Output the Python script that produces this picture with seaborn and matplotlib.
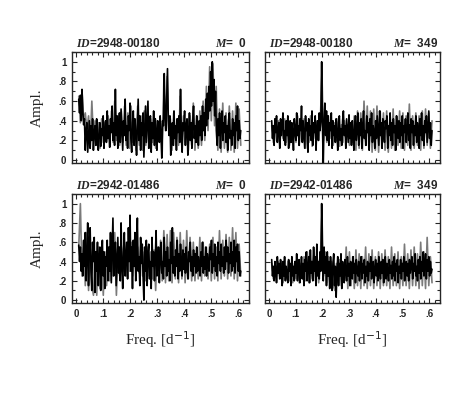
import numpy as np
import seaborn as sns
import matplotlib.pyplot as plt
from matplotlib.ticker import MultipleLocator, FuncFormatter

# frequency grids [1/d]
freq = np.linspace(0.01, 0.61, 200)       # black spectra
freq_gray = np.linspace(0.01, 0.61, 100)  # gray spectra

# star 2948-00180, M = 0
tl_black = [0.62, 0.48, 0.66, 0.40, 0.72, 0.50, 0.36, 0.42, 0.10, 0.30,
            0.38, 0.08, 0.25, 0.40, 0.12, 0.35, 0.20, 0.42, 0.10, 0.28,
            0.35, 0.15, 0.42, 0.22, 0.10, 0.30, 0.38, 0.14, 0.32, 0.25,
            0.45, 0.12, 0.30, 0.40, 0.18, 0.50, 0.22, 0.35, 0.13, 0.42,
            0.28, 0.55, 0.20, 0.38, 0.15, 0.72, 0.25, 0.45, 0.12, 0.35,
            0.48, 0.18, 0.52, 0.30, 0.10, 0.40, 0.25, 0.62, 0.20, 0.35,
            0.12, 0.45, 0.30, 0.58, 0.22, 0.08, 0.38, 0.50, 0.15, 0.42,
            0.28, 0.05, 0.35, 0.62, 0.20, 0.45, 0.10, 0.38, 0.25, 0.48,
            0.03, 0.30, 0.55, 0.18, 0.40, 0.60, 0.12, 0.35, 0.45, 0.08,
            0.38, 0.22, 0.50, 0.15, 0.42, 0.28, 0.10, 0.40, 0.30, 0.18,
            0.45, 0.25, 0.02, 0.40, 0.35, 0.88, 0.45, 0.30, 0.60, 0.93,
            0.40, 0.25, 0.45, 0.05, 0.30, 0.38, 0.15, 0.50, 0.22, 0.35,
            0.10, 0.42, 0.28, 0.45, 0.18, 0.72, 0.25, 0.08, 0.38, 0.30,
            0.50, 0.15, 0.35, 0.42, 0.05, 0.30, 0.48, 0.20, 0.38, 0.12,
            0.40, 0.55, 0.22, 0.35, 0.18, 0.45, 0.28, 0.15, 0.40, 0.25,
            0.45, 0.20, 0.55, 0.30, 0.48, 0.25, 0.62, 0.35, 0.68, 0.42,
            0.75, 0.50, 0.90, 0.55, 1.00, 0.60, 0.82, 0.45, 0.70, 0.30,
            0.15, 0.42, 0.25, 0.48, 0.12, 0.35, 0.50, 0.20, 0.38, 0.28,
            0.45, 0.18, 0.35, 0.10, 0.40, 0.48, 0.22, 0.30, 0.15, 0.42,
            0.25, 0.38, 0.12, 0.45, 0.30, 0.55, 0.20, 0.40, 0.22, 0.30]
tl_gray = [0.65, 0.38, 0.70, 0.40, 0.48, 0.30, 0.45, 0.12, 0.60, 0.20,
           0.40, 0.15, 0.38, 0.12, 0.42, 0.18, 0.38, 0.20, 0.45, 0.15,
           0.50, 0.18, 0.60, 0.20, 0.45, 0.15, 0.50, 0.18, 0.55, 0.15,
           0.48, 0.12, 0.55, 0.18, 0.42, 0.10, 0.55, 0.15, 0.45, 0.10,
           0.50, 0.15, 0.55, 0.12, 0.42, 0.18, 0.48, 0.12, 0.40, 0.20,
           0.38, 0.08, 0.80, 0.30, 0.85, 0.28, 0.42, 0.10, 0.48, 0.15,
           0.42, 0.15, 0.65, 0.12, 0.45, 0.18, 0.40, 0.10, 0.45, 0.15,
           0.58, 0.10, 0.45, 0.12, 0.50, 0.15, 0.60, 0.20, 0.75, 0.30,
           0.95, 0.40, 0.98, 0.35, 0.75, 0.10, 0.52, 0.08, 0.58, 0.12,
           0.48, 0.08, 0.55, 0.10, 0.50, 0.08, 0.58, 0.12, 0.52, 0.15]

# star 2948-00180, M = 349
tr_black = [0.40, 0.22, 0.35, 0.15, 0.42, 0.28, 0.45, 0.18, 0.30, 0.38,
            0.12, 0.42, 0.25, 0.35, 0.48, 0.20, 0.30, 0.15, 0.40, 0.25,
            0.45, 0.12, 0.32, 0.40, 0.18, 0.38, 0.28, 0.10, 0.42, 0.30,
            0.20, 0.48, 0.25, 0.35, 0.15, 0.42, 0.30, 0.55, 0.18, 0.40,
            0.25, 0.12, 0.45, 0.30, 0.38, 0.08, 0.42, 0.25, 0.35, 0.20,
            0.50, 0.15, 0.38, 0.28, 0.45, 0.10, 0.32, 0.40, 0.20, 0.48,
            0.30, 0.40, 1.00, 0.35, -0.05, 0.42, 0.58, 0.25, 0.50, 0.20,
            0.45, 0.15, 0.38, 0.30, 0.48, 0.12, 0.40, 0.25, 0.35, 0.18,
            0.42, 0.28, 0.10, 0.38, 0.45, 0.20, 0.32, 0.15, 0.40, 0.50,
            0.25, 0.35, 0.12, 0.42, 0.30, 0.18, 0.46, 0.22, 0.38, 0.15,
            0.40, 0.28, 0.10, 0.35, 0.45, 0.20, 0.30, 0.48, 0.15, 0.38,
            0.25, 0.42, 0.12, 0.35, 0.50, 0.22, 0.30, 0.15, 0.45, 0.28,
            0.38, 0.10, 0.42, 0.25, 0.48, 0.18, 0.35, 0.30, 0.12, 0.40,
            0.22, 0.45, 0.30, 0.15, 0.50, 0.25, 0.38, 0.12, 0.42, 0.28,
            0.18, 0.40, 0.32, 0.45, 0.12, 0.35, 0.25, 0.48, 0.20, 0.38,
            0.15, 0.42, 0.28, 0.35, 0.10, 0.45, 0.30, 0.22, 0.40, 0.18,
            0.38, 0.25, 0.45, 0.12, 0.35, 0.28, 0.42, 0.18, 0.30, 0.48,
            0.20, 0.36, 0.12, 0.42, 0.28, 0.40, 0.15, 0.35, 0.25, 0.45,
            0.18, 0.38, 0.30, 0.12, 0.42, 0.25, 0.48, 0.20, 0.35, 0.15,
            0.40, 0.28, 0.45, 0.18, 0.35, 0.50, 0.22, 0.38, 0.15, 0.30]
tr_gray = [0.35, 0.18, 0.38, 0.20, 0.40, 0.15, 0.36, 0.22, 0.42, 0.18,
           0.35, 0.15, 0.38, 0.20, 0.40, 0.18, 0.45, 0.15, 0.36, 0.20,
           0.42, 0.12, 0.38, 0.18, 0.45, 0.14, 0.35, 0.22, 0.40, 0.20,
           0.38, 0.90, 0.20, 0.50, 0.18, 0.45, 0.22, 0.40, 0.15, 0.38,
           0.20, 0.42, 0.14, 0.36, 0.18, 0.40, 0.22, 0.36, 0.15, 0.38,
           0.18, 0.45, 0.10, 0.50, 0.12, 0.48, 0.10, 0.60, 0.15, 0.55,
           0.12, 0.50, 0.08, 0.52, 0.10, 0.55, 0.08, 0.50, 0.12, 0.48,
           0.10, 0.50, 0.08, 0.45, 0.12, 0.52, 0.10, 0.45, 0.15, 0.50,
           0.12, 0.48, 0.10, 0.45, 0.15, 0.57, 0.10, 0.45, 0.12, 0.48,
           0.15, 0.45, 0.10, 0.50, 0.12, 0.52, 0.15, 0.48, 0.12, 0.40]

# star 2942-01486, M = 0
bl_black = [0.57, 0.40, 0.55, 0.30, 0.48, 0.25, 0.62, 0.35, 0.70, 0.20,
            0.45, 0.80, 0.15, 0.55, 0.75, 0.30, 0.10, 0.60, 0.40, 0.65,
            0.08, 0.50, 0.30, 0.60, 0.15, 0.45, 0.55, 0.10, 0.40, 0.62,
            0.25, 0.50, 0.12, 0.45, 0.35, 0.62, 0.20, 0.55, 0.30, 0.70,
            0.18, 0.50, 0.85, 0.25, 0.45, 0.60, 0.15, 0.40, 0.65, 0.28,
            0.55, 0.20, 0.80, 0.35, 0.12, 0.50, 0.70, 0.25, 0.45, 0.60,
            0.22, 0.75, 0.40, 0.88, 0.30, 0.55, 0.12, 0.62, 0.35, 0.70,
            0.20, 0.50, 0.85, 0.30, 0.45, 0.15, 0.65, 0.38, 0.58, 0.25,
            0.00, 0.55, 0.30, 0.62, 0.15, 0.48, 0.58, 0.22, 0.40, 0.12,
            0.65, 0.35, 0.50, 0.20, 0.42, 0.72, 0.25, 0.38, 0.55, 0.18,
            0.45, 0.60, 0.28, 0.40, 0.22, 0.65, 0.35, 0.50, 0.25, 0.55,
            0.30, 0.42, 0.20, 0.60, 0.38, 0.75, 0.28, 0.45, 0.25, 0.52,
            0.35, 0.62, 0.22, 0.48, 0.30, 0.58, 0.40, 0.25, 0.52, 0.32,
            0.48, 0.28, 0.55, 0.35, 0.22, 0.50, 0.40, 0.60, 0.30, 0.45,
            0.25, 0.52, 0.35, 0.48, 0.28, 0.55, 0.30, 0.45, 0.38, 0.25,
            0.50, 0.35, 0.60, 0.28, 0.45, 0.32, 0.55, 0.25, 0.48, 0.38,
            0.30, 0.55, 0.42, 0.62, 0.28, 0.48, 0.35, 0.58, 0.30, 0.45,
            0.25, 0.60, 0.38, 0.50, 0.30, 0.58, 0.35, 0.45, 0.28, 0.55,
            0.32, 0.62, 0.40, 0.55, 0.28, 0.48, 0.38, 0.60, 0.30, 0.50,
            0.35, 0.62, 0.28, 0.55, 0.40, 0.58, 0.30, 0.50, 0.25, 0.30]
bl_gray = [0.55, 1.00, 0.25, 0.60, 0.15, 0.70, 0.10, 0.55, 0.15, 0.05,
           0.50, 0.05, 0.55, 0.12, 0.45, 0.05, 0.50, 0.15, 0.45, 0.20,
           0.60, 0.25, 0.70, 0.05, 0.50, 0.25, 0.55, 0.30, 0.60, 0.25,
           0.55, 0.30, 0.60, 0.25, 0.50, 0.30, 0.55, 0.28, 0.60, 0.25,
           0.50, 0.20, 0.55, 0.25, 0.50, 0.22, 0.52, 0.10, 0.55, 0.25,
           0.62, 0.20, 0.72, 0.18, 0.68, 0.20, 0.72, 0.18, 0.70, 0.22,
           0.65, 0.18, 0.70, 0.22, 0.62, 0.18, 0.72, 0.22, 0.65, 0.20,
           0.60, 0.20, 0.55, 0.22, 0.65, 0.20, 0.60, 0.25, 0.55, 0.22,
           0.58, 0.20, 0.65, 0.22, 0.55, 0.20, 0.72, 0.22, 0.62, 0.25,
           0.68, 0.22, 0.65, 0.25, 0.75, 0.22, 0.70, 0.20, 0.58, 0.25]

# star 2942-01486, M = 349
br_black = [0.42, 0.25, 0.35, 0.20, 0.40, 0.30, 0.18, 0.45, 0.28, 0.38,
            0.22, 0.42, 0.30, 0.15, 0.40, 0.25, 0.45, 0.20, 0.35, 0.28,
            0.18, 0.42, 0.30, 0.38, 0.15, 0.45, 0.25, 0.35, 0.20, 0.40,
            0.28, 0.48, 0.20, 0.35, 0.42, 0.18, 0.30, 0.45, 0.22, 0.38,
            0.15, 0.42, 0.30, 0.50, 0.20, 0.35, 0.45, 0.18, 0.52, 0.28,
            0.40, 0.20, 0.55, 0.30, 0.45, 0.15, 0.58, 0.25, 0.40, 0.22,
            0.50, 0.30, 1.00, 0.40, 0.20, 0.55, 0.28, 0.45, 0.15, 0.50,
            0.25, 0.40, 0.12, 0.45, 0.30, 0.10, 0.38, 0.48, 0.15, 0.35,
            0.03, 0.30, 0.45, 0.15, 0.38, 0.25, 0.48, 0.12, 0.40, 0.28,
            0.18, 0.42, 0.30, 0.20, 0.45, 0.25, 0.38, 0.15, 0.40, 0.30,
            0.22, 0.45, 0.28, 0.38, 0.18, 0.42, 0.30, 0.25, 0.40, 0.20,
            0.35, 0.45, 0.22, 0.38, 0.28, 0.42, 0.18, 0.35, 0.25, 0.40,
            0.20, 0.38, 0.30, 0.45, 0.22, 0.35, 0.40, 0.18, 0.32, 0.42,
            0.25, 0.38, 0.20, 0.45, 0.30, 0.22, 0.40, 0.28, 0.42, 0.18,
            0.35, 0.45, 0.22, 0.38, 0.30, 0.20, 0.42, 0.28, 0.36, 0.22,
            0.40, 0.25, 0.45, 0.20, 0.38, 0.30, 0.42, 0.18, 0.35, 0.28,
            0.42, 0.22, 0.38, 0.30, 0.45, 0.20, 0.35, 0.40, 0.25, 0.38,
            0.20, 0.42, 0.28, 0.35, 0.45, 0.22, 0.38, 0.30, 0.48, 0.25,
            0.35, 0.20, 0.42, 0.28, 0.45, 0.22, 0.40, 0.30, 0.50, 0.25,
            0.38, 0.48, 0.22, 0.42, 0.30, 0.45, 0.25, 0.40, 0.28, 0.32]
br_gray = [0.38, 0.22, 0.36, 0.20, 0.40, 0.24, 0.38, 0.18, 0.36, 0.22,
           0.40, 0.20, 0.35, 0.18, 0.38, 0.22, 0.42, 0.18, 0.38, 0.24,
           0.45, 0.20, 0.50, 0.18, 0.40, 0.22, 0.52, 0.20, 0.48, 0.18,
           0.40, 0.90, 0.25, 0.50, 0.18, 0.45, 0.15, 0.40, 0.15, 0.10,
           0.38, 0.18, 0.42, 0.15, 0.38, 0.20, 0.55, 0.12, 0.50, 0.15,
           0.45, 0.12, 0.52, 0.15, 0.48, 0.12, 0.45, 0.15, 0.55, 0.12,
           0.48, 0.15, 0.52, 0.12, 0.45, 0.15, 0.50, 0.12, 0.48, 0.15,
           0.52, 0.15, 0.45, 0.12, 0.55, 0.15, 0.48, 0.15, 0.50, 0.12,
           0.45, 0.15, 0.58, 0.15, 0.48, 0.12, 0.52, 0.15, 0.55, 0.15,
           0.48, 0.12, 0.60, 0.15, 0.50, 0.12, 0.65, 0.15, 0.45, 0.18]

star_ids = ["2948-00180", "2948-00180", "2942-01486", "2942-01486"]
m_values = ["0", "349", "0", "349"]
series = [(tl_black, tl_gray), (tr_black, tr_gray), (bl_black, bl_gray), (br_black, br_gray)]

sns.set_style("ticks")
plt.rcParams['font.family'] = ['Liberation Sans', 'DejaVu Sans']
plt.rcParams['mathtext.fontset'] = 'custom'
plt.rcParams['mathtext.it'] = 'Liberation Serif:italic:bold'

fig = plt.figure(figsize=(4.63, 3.93), dpi=100)

boxes = [[0.1555, 0.5852, 0.382, 0.2825],
         [0.5724, 0.5852, 0.378, 0.2825],
         [0.1555, 0.2290, 0.382, 0.2774],
         [0.5724, 0.2290, 0.378, 0.2774]]

fmt = FuncFormatter(lambda v, p: "0" if abs(v) < 1e-9 else ("1" if abs(v - 1) < 1e-9 else ("%.1f" % v).lstrip("0")))

for k, box in enumerate(boxes):
    ax = fig.add_axes(box)
    black, gray = series[k]
    sns.lineplot(x=freq_gray, y=gray, color="#7a7a7a", lw=1.2, ax=ax)
    sns.lineplot(x=freq, y=black, color="black", lw=1.2, ax=ax)
    ax.set_xlim(-0.015, 0.64)
    ax.set_ylim(-0.03, 1.1)
    ax.xaxis.set_major_locator(MultipleLocator(0.1))
    ax.xaxis.set_minor_locator(MultipleLocator(0.02))
    ax.yaxis.set_major_locator(MultipleLocator(0.2))
    ax.yaxis.set_minor_locator(MultipleLocator(0.1))
    ax.tick_params(which="both", direction="in", top=True, right=True, width=0.8)
    ax.tick_params(which="major", length=3.5, labelsize=7, pad=4)
    ax.tick_params(which="minor", length=2)
    for s in ax.spines.values():
        s.set_linewidth(1.0)
    ax.yaxis.set_major_formatter(fmt)
    ax.xaxis.set_major_formatter(fmt)
    for lab in ax.get_xticklabels() + ax.get_yticklabels():
        lab.set_fontweight("bold")
    if k % 2 == 1:
        ax.set_yticklabels([])
    if k < 2:
        ax.set_xticklabels([])
    if k % 2 == 0:
        ax.set_ylabel("Ampl.", family="Liberation Serif", fontsize=11, labelpad=10)
    else:
        ax.set_ylabel("")
    if k >= 2:
        ax.set_xlabel("Freq. [d$^{-1}$]", family="Liberation Serif", fontsize=11, labelpad=8)
    else:
        ax.set_xlabel("")
    ax.text(0.02, 1.015, "$ID$=" + star_ids[k], transform=ax.transAxes,
            ha="left", va="bottom", fontsize=8.5, fontweight="bold")
    ax.text(0.99, 1.015, "$M$=  " + m_values[k], transform=ax.transAxes,
            ha="right", va="bottom", fontsize=8.5, fontweight="bold")

fig.savefig("out.png", dpi=100)
